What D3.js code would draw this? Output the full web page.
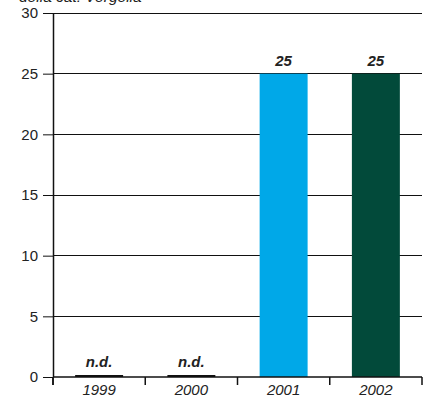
<!DOCTYPE html>
<html><head><meta charset="utf-8">
<script src="https://cdn.jsdelivr.net/npm/d3@7"></script>
<style>body{margin:0;background:#fff}svg{display:block;font-family:"Liberation Sans",Arial,sans-serif}</style>
</head><body><svg id="c" width="425" height="397"></svg>
<script>
const categories = ["1999","2000","2001","2002"];
const values = [0,0,25,25];
const valueLabels = ["n.d.","n.d.","25","25"];
const colors = ["#1a1a1a","#1a1a1a","#00a8e8","#024a3a"];
const yTicks = [0,5,10,15,20,25,30];
const title = "della cat. Vergella";

const svg = d3.select("#c");
const m = {l:53, r:422, t:13, b:377};
const x = d3.scaleBand().domain(categories).range([m.l, m.r]).paddingInner(0.48).paddingOuter(0.24);
const y = d3.scaleLinear().domain([0,30]).range([m.b, m.t]);

svg.append("text").attr("x",19).attr("y",2).attr("font-size",15.5).attr("font-style","italic").attr("fill","#222").text(title);

// gridlines
svg.append("g").selectAll("line").data(yTicks.filter(d=>d>0)).join("line")
  .attr("x1",m.l).attr("x2",m.r).attr("y1",d=>y(d)).attr("y2",d=>y(d))
  .attr("stroke","#111").attr("stroke-width",1).attr("shape-rendering","crispEdges");

// y axis
const ya = svg.append("g").attr("transform",`translate(${m.l},0)`)
  .call(d3.axisLeft(y).tickValues(yTicks).tickSize(10).tickPadding(5).tickSizeOuter(0));
ya.select(".domain").attr("stroke","#111").attr("stroke-width",1.5);
ya.append("line").attr("x1",0).attr("x2",0).attr("y1",m.b).attr("y2",m.b+8).attr("stroke","#111").attr("stroke-width",1.5);
ya.selectAll(".tick line").attr("stroke","#111");
ya.selectAll("text").attr("font-size",15).attr("fill","#222").attr("font-family","Liberation Sans, Arial, sans-serif");

// bars
svg.append("g").selectAll("rect").data(categories).join("rect")
  .attr("x",d=>x(d)).attr("width",x.bandwidth())
  .attr("y",(d,i)=>y(values[i])).attr("height",(d,i)=>Math.max(0,y(0)-y(values[i])))
  .attr("fill",(d,i)=>colors[i]);
// zero-height bar outlines
svg.append("g").selectAll("line").data(categories.filter((d,i)=>values[i]===0)).join("line")
  .attr("x1",d=>x(d)).attr("x2",d=>x(d)+x.bandwidth()).attr("y1",y(0)-1).attr("y2",y(0)-1)
  .attr("stroke","#111").attr("stroke-width",2);

// x axis
const xTickScale = d3.scaleLinear().domain([0,categories.length]).range([m.l,m.r]);
const xa = svg.append("g").attr("transform",`translate(0,${m.b})`);
xa.append("line").attr("x1",m.l).attr("x2",m.r).attr("stroke","#111").attr("stroke-width",1.5);
xa.selectAll("line.t").data(d3.range(categories.length+1)).join("line").attr("class","t")
  .attr("x1",d=>xTickScale(d)).attr("x2",d=>xTickScale(d)).attr("y1",0).attr("y2",8)
  .attr("stroke","#111").attr("stroke-width",1.5);
xa.selectAll("text").data(categories).join("text")
  .attr("x",d=>x(d)+x.bandwidth()/2).attr("y",18).attr("text-anchor","middle")
  .attr("font-size",15).attr("font-style","italic").attr("fill","#222").text(d=>d);

// value labels
svg.append("g").selectAll("text").data(categories).join("text")
  .attr("x",d=>x(d)+x.bandwidth()/2).attr("y",(d,i)=>y(values[i])-(values[i]===0?10:8))
  .attr("text-anchor","middle").attr("font-size",15).attr("font-weight","bold").attr("font-style","italic")
  .attr("fill","#222").text((d,i)=>valueLabels[i]);
</script></body></html>
